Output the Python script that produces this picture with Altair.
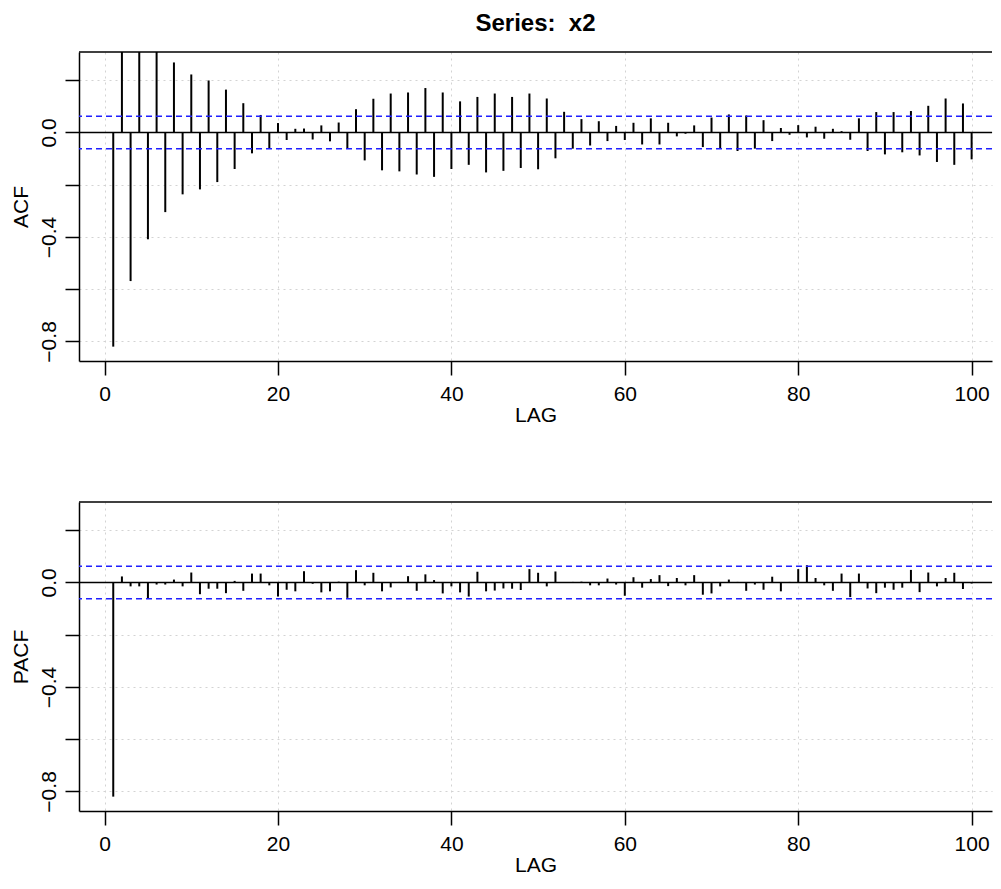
import altair as alt
import pandas as pd

lags = list(range(1, 101))

acf_vals = [
    -0.820, 0.680, -0.569, 0.480, -0.409, 0.360, -0.305, 0.268, -0.237, 0.222,
    -0.218, 0.199, -0.190, 0.164, -0.140, 0.112, -0.080, 0.067, -0.061, 0.036,
    -0.029, 0.014, 0.015, -0.027, 0.027, -0.034, 0.038, -0.061, 0.089, -0.107,
    0.129, -0.145, 0.149, -0.149, 0.153, -0.161, 0.170, -0.170, 0.153, -0.140,
    0.119, -0.124, 0.136, -0.153, 0.149, -0.147, 0.136, -0.136, 0.149, -0.141,
    0.130, -0.099, 0.079, -0.062, 0.051, -0.050, 0.043, -0.033, 0.025, -0.029,
    0.037, -0.046, 0.054, -0.046, 0.037, -0.015, -0.005, 0.027, -0.056, 0.057,
    -0.062, 0.069, -0.071, 0.065, -0.062, 0.047, -0.033, 0.017, -0.009, 0.028,
    -0.019, 0.022, -0.024, 0.014, 0.005, -0.028, 0.054, -0.071, 0.078, -0.084,
    0.078, -0.076, 0.082, -0.088, 0.102, -0.113, 0.130, -0.124, 0.111, -0.103,
]

pacf_vals = [
    -0.820, 0.023, -0.015, -0.015, -0.061, -0.008, -0.008, 0.011, -0.015, 0.038,
    -0.045, -0.024, -0.024, -0.041, 0.006, -0.032, 0.034, 0.034, -0.011, -0.054,
    -0.028, -0.034, 0.043, -0.005, -0.038, -0.034, 0.003, -0.059, 0.047, -0.011,
    0.037, -0.034, -0.019, 0.002, 0.024, -0.032, 0.031, 0.009, -0.042, -0.015,
    -0.038, -0.054, 0.041, -0.034, -0.031, -0.023, -0.024, -0.029, 0.051, 0.037,
    -0.015, 0.042, 0.001, 0.002, 0.003, -0.011, -0.011, 0.015, -0.008, -0.051,
    0.020, -0.020, 0.013, 0.028, -0.014, 0.017, -0.011, 0.028, -0.047, -0.042,
    -0.015, 0.011, 0.002, -0.032, -0.008, -0.028, 0.022, -0.034, 0.002, 0.051,
    0.066, 0.017, -0.011, -0.032, 0.034, -0.056, 0.034, -0.023, -0.041, -0.020,
    -0.028, -0.020, 0.048, -0.037, 0.038, -0.015, 0.017, 0.037, -0.025, -0.004,
]

bounds = [0.062, -0.062]
zero_line = [0.0]
x_ticks = [0, 20, 40, 60, 80, 100]
y_ticks = [0.2, 0.0, -0.2, -0.4, -0.6, -0.8]

W = 913
H = 309
FONT = "Liberation Sans"

label_expr = (
    "abs(datum.value) < 0.01 ? '0.0' : "
    "abs(datum.value + 0.4) < 0.01 ? '\u22120.4' : "
    "abs(datum.value + 0.8) < 0.01 ? '\u22120.8' : ''"
)


def x_enc():
    return alt.X(
        "lag:Q",
        scale=alt.Scale(domain=[-2.95, 102.35], nice=False, zero=False),
        axis=alt.Axis(values=x_ticks, title="LAG", format="d"),
    )


def y_enc(title):
    return alt.Y(
        "value:Q",
        scale=alt.Scale(domain=[-0.875, 0.308], nice=False, zero=False),
        axis=alt.Axis(
            values=y_ticks,
            title=title,
            labelExpr=label_expr,
            labelAngle=270,
            labelOverlap=False,
            labelFlush=False,
            labelPadding=6,
            titlePadding=7,
        ),
    )


def panel(vals, ytitle, title=None):
    df = pd.DataFrame({"lag": lags, "value": vals, "base": [0.0] * len(lags)})
    bars = alt.Chart(df).mark_rule(color="black", strokeWidth=2, clip=True).encode(
        x=x_enc(), y=y_enc(ytitle), y2="base:Q"
    )
    zero = alt.Chart(pd.DataFrame({"value": zero_line})).mark_rule(
        color="black", strokeWidth=1.5
    ).encode(y=y_enc(ytitle))
    bnd = alt.Chart(pd.DataFrame({"value": bounds})).mark_rule(
        color="#1f1fff", strokeWidth=1.5, strokeDash=[6, 4]
    ).encode(y=y_enc(ytitle))
    top = alt.Chart(pd.DataFrame({"a": [0]})).mark_rule(
        color="black", strokeWidth=1.5
    ).encode(y=alt.value(0), x=alt.value(0), x2=alt.value(W))
    ch = alt.layer(bars, zero, bnd, top).properties(width=W, height=H)
    if title is not None:
        ch = ch.properties(
            title=alt.Title(
                title,
                fontSize=24,
                fontWeight="bold",
                font=FONT,
                color="black",
                anchor="middle",
                frame="group",
                offset=15,
            )
        )
    return ch


top_panel = panel(acf_vals, "ACF", "Series: \u00a0x2")
bottom_panel = panel(pacf_vals, "PACF")

chart = (
    alt.vconcat(top_panel, bottom_panel, spacing=141, bounds="flush")
    .properties(padding={"left": 2, "top": 4, "right": 0, "bottom": 0})
    .configure_view(stroke=None)
    .configure_axis(
        labelFont=FONT,
        titleFont=FONT,
        labelFontSize=21,
        titleFontSize=21,
        titleFontWeight="normal",
        labelColor="black",
        titleColor="black",
        tickColor="black",
        tickSize=14,
        tickWidth=1.5,
        domainColor="black",
        domainWidth=1.5,
        grid=True,
        gridColor="#d3d3d3",
        gridDash=[2, 4],
        gridWidth=1,
    )
    .configure_axisX(labelPadding=8, titlePadding=0)
)

chart.save("out.html", embed_options={"renderer": "svg", "actions": False})
